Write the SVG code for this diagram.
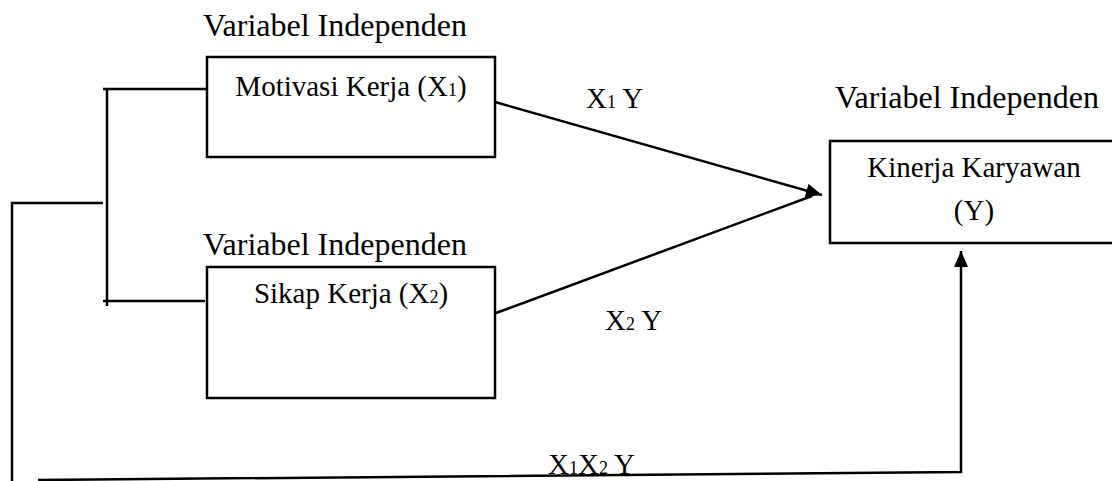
<svg xmlns="http://www.w3.org/2000/svg" width="1112" height="481" viewBox="0 0 1112 481">
<style>
  .box { fill: #fff; stroke: #000; stroke-width: 2.5; }
  .ln { fill: none; stroke: #000; stroke-width: 2.5; }
  text { font-family: "Liberation Serif", "Times New Roman", serif; fill: #000; }
  .title { font-size: 32px; }
  .lbl { font-size: 29px; }
  .sub { font-size: 18px; }
</style>
<defs>
  <marker id="arr" markerUnits="userSpaceOnUse" markerWidth="18" markerHeight="16" refX="16" refY="7" orient="auto">
    <path d="M0,0 L16,7 L0,14 Z" fill="#000"/>
  </marker>
</defs>
<rect width="1112" height="481" fill="#fff"/>

<g id="connectors">
  <line class="ln" x1="495" y1="102" x2="822" y2="195" marker-end="url(#arr)"/>
  <line class="ln" x1="496" y1="313" x2="812" y2="196"/>
  <polyline class="ln" points="103,89 207,89"/>
  <polyline class="ln" points="107,89 107,306"/>
  <polyline class="ln" points="103,301 205,301"/>
  <polyline class="ln" points="103,203 12,203 12,481"/>
  <polyline class="ln" points="38,480 961,472 961,251" marker-end="url(#arr)"/>
  <text class="lbl" x="586" y="108">X<tspan class="sub">1</tspan> Y</text>
  <text class="lbl" x="605" y="330">X<tspan class="sub">2</tspan> Y</text>
  <text class="lbl" x="548" y="474">X<tspan class="sub">1</tspan>X<tspan class="sub">2</tspan> Y</text>
</g>

<g id="motivasi">
  <text class="title" x="203" y="36">Variabel Independen</text>
  <rect class="box" x="207" y="57" width="288" height="100"/>
  <text class="lbl" x="351" y="96" text-anchor="middle">Motivasi Kerja (X<tspan class="sub">1</tspan>)</text>
</g>

<g id="sikap">
  <text class="title" x="203" y="255">Variabel Independen</text>
  <rect class="box" x="207" y="267" width="288" height="131"/>
  <text class="lbl" x="351" y="303" text-anchor="middle">Sikap Kerja (X<tspan class="sub">2</tspan>)</text>
</g>

<g id="kinerja">
  <text class="title" x="835" y="108">Variabel Independen</text>
  <rect class="box" x="830" y="141" width="300" height="102"/>
  <text class="lbl" x="974" y="177" text-anchor="middle">Kinerja Karyawan</text>
  <text class="lbl" x="974" y="220" text-anchor="middle">(Y)</text>
</g>
</svg>
